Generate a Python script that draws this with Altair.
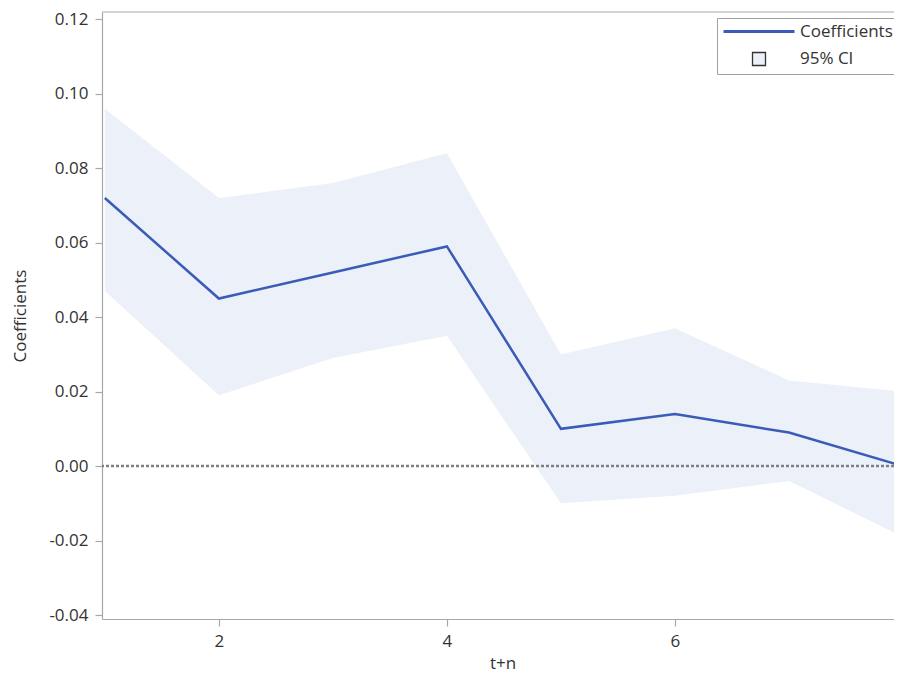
import altair as alt
import pandas as pd

# ---- data ----
horizon = [1, 2, 3, 4, 5, 6, 7, 8]
coef = [0.072, 0.045, 0.052, 0.059, 0.010, 0.014, 0.009, 0.000]
upper = [0.096, 0.072, 0.076, 0.084, 0.030, 0.037, 0.023, 0.020]
lower = [0.047, 0.019, 0.029, 0.035, -0.010, -0.008, -0.004, -0.019]
series_names = ["Coefficients", "95% CI"]
x_ticks = [2, 4, 6, 8]
y_ticks = [-0.04, -0.02, 0.0, 0.02, 0.04, 0.06, 0.08, 0.10, 0.12]

LINE = "#3A5BB8"
BAND = "#ECF0F8"
AXIS = "#A4A8AC"
TEXT = "#333333"
FONT = "Open Sans"
FS = 17

df = pd.DataFrame({"h": horizon, "coef": coef, "upper": upper, "lower": lower})
leg_df = pd.DataFrame({"series": series_names, "h": [horizon[0]] * 2, "coef": [coef[0]] * 2})
zero_df = pd.DataFrame({"y": [0.0]})

# plot area is wider than the page: the right end (x = 8) falls just past the edge
xscale = alt.Scale(domain=[0.975, 8.0], range=[0, 801], nice=False, zero=False)
yscale = alt.Scale(domain=[-0.04107, 0.12196], nice=False, zero=False)

xaxis = alt.Axis(values=x_ticks, format="d", title="t+n", grid=False,
                 tickSize=7, labelPadding=7, titlePadding=6)
yaxis = alt.Axis(values=y_ticks, grid=False, title="Coefficients",
                 labelExpr="(datum.value < -1e-9 ? '-' : '') + format(abs(datum.value), '.2f')",
                 tickSize=7, labelPadding=7, titlePadding=19)

band = alt.Chart(df).mark_area(color=BAND, opacity=1).encode(
    x=alt.X("h:Q", scale=xscale, axis=xaxis),
    y=alt.Y("lower:Q", scale=yscale, axis=yaxis),
    y2="upper:Q",
)

zero = alt.Chart(zero_df).mark_rule(color="#808080", strokeWidth=2.5, strokeDash=[3, 2]).encode(
    y=alt.Y("y:Q", scale=yscale)
)

top_border = alt.Chart(zero_df).mark_rule(color=AXIS, strokeWidth=1.2).encode(
    y=alt.value(0)
)

line = alt.Chart(df).mark_line(color=LINE, strokeWidth=2.5).encode(
    x=alt.X("h:Q", scale=xscale),
    y=alt.Y("coef:Q", scale=yscale),
)

legend = alt.Legend(
    title=None, orient="none", legendX=615, legendY=6,
    strokeColor="#A0A0A0", fillColor="white", padding=5,
    rowPadding=9.5, symbolOffset=28.5, labelOffset=32.5, symbolSize=169,
    labelFont=FONT, labelFontSize=FS, labelColor=TEXT, symbolOpacity=1,
)

key = alt.Chart(leg_df).mark_point(opacity=0, size=169).encode(
    x=alt.X("h:Q", scale=xscale),
    y=alt.Y("coef:Q", scale=yscale),
    shape=alt.Shape("series:N", scale=alt.Scale(domain=series_names, range=["M-5.46,0H5.46", "square"]), legend=legend),
    fill=alt.Fill("series:N", scale=alt.Scale(domain=series_names, range=[LINE, BAND]), legend=legend),
    stroke=alt.Stroke("series:N", scale=alt.Scale(domain=series_names, range=[LINE, "#333333"]), legend=legend),
    strokeWidth=alt.StrokeWidth("series:N", scale=alt.Scale(domain=series_names, range=[2.8, 1.3]), legend=legend),
)

chart = alt.layer(band, zero, line, top_border, key).properties(
    width=792, height=607,
    autosize=alt.AutoSizeParams(type="none"),
    padding={"left": 94, "top": 4, "right": 0, "bottom": 55},
).configure_view(
    stroke=None
).configure_axis(
    domainColor=AXIS, tickColor=AXIS, domainWidth=1.2, tickWidth=1.2,
    labelFont=FONT, labelFontSize=FS, labelColor=TEXT,
    titleFont=FONT, titleFontSize=FS, titleColor=TEXT, titleFontWeight="normal",
)

chart.save("out.html", embed_options={"renderer": "svg", "actions": False})
